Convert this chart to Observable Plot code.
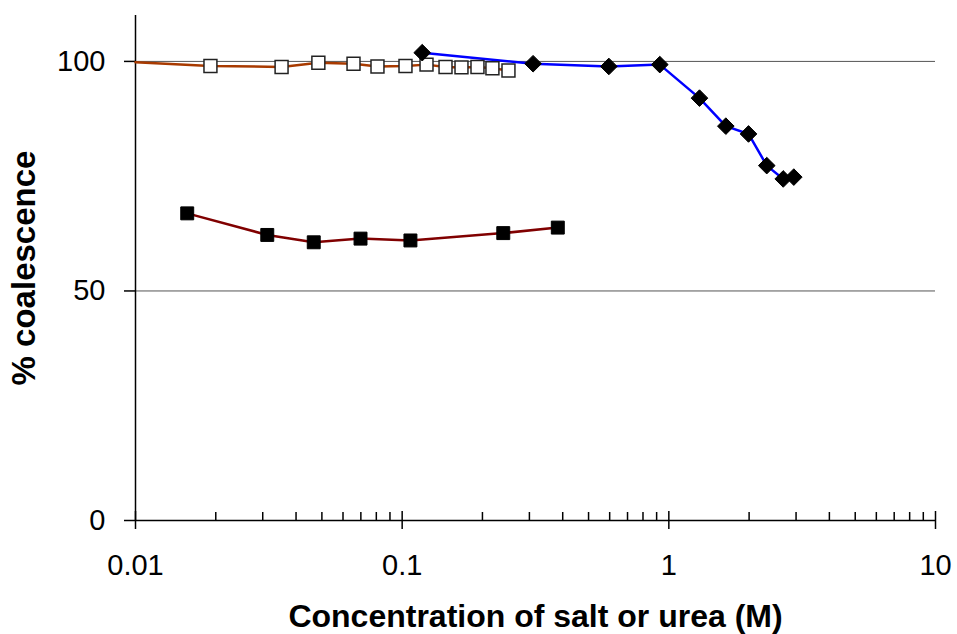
<!DOCTYPE html>
<html>
<head>
<meta charset="utf-8">
<script src="https://cdn.jsdelivr.net/npm/d3@7"></script>
<script src="https://cdn.jsdelivr.net/npm/@observablehq/plot@0.6"></script>
<style>
  html, body { margin: 0; padding: 0; background: #fff; }
  svg { display: block; }
</style>
</head>
<body>
<div id="chart"></div>
<script>
// Series: open squares (brown line)
const openX = [0.01, 0.0191, 0.0353, 0.0485, 0.0657, 0.0808, 0.1029, 0.1234, 0.1454, 0.1669, 0.1916, 0.218, 0.2504];
const openY = [99.8, 99.0, 98.8, 99.7, 99.5, 98.9, 99.0, 99.3, 98.8, 98.7, 98.8, 98.5, 98.0];
// first point is line-only (no marker)
const openMarker = [false, true, true, true, true, true, true, true, true, true, true, true, true];

// Series: filled squares (dark red line)
const filledX = [0.01563, 0.0312, 0.0466, 0.0698, 0.1074, 0.2394, 0.3834];
const filledY = [66.9, 62.2, 60.6, 61.4, 61.0, 62.6, 63.8];

// Series: diamonds (blue line)
const diamondX = [0.1189, 0.3097, 0.5957, 0.925, 1.303, 1.636, 1.99, 2.329, 2.685, 2.942];
const diamondY = [101.9, 99.5, 98.9, 99.3, 92.0, 85.9, 84.2, 77.3, 74.4, 74.8];

const xMajor = [0.01, 0.1, 1, 10];
const xMinor = [2,3,4,5,6,7,8,9].flatMap(m => [0.01*m, 0.1*m, 1*m]);
const yTicks = [0, 50, 100];
const yGrid = [50, 100];
const xTitle = "Concentration of salt or urea (M)";
const yTitle = "% coalescence";

const openData = openX.map((x, i) => ({x, y: openY[i], marker: openMarker[i]}));
const filledData = filledX.map((x, i) => ({x, y: filledY[i]}));
const diamondData = diamondX.map((x, i) => ({x, y: diamondY[i]}));

const font = "'Liberation Sans', Arial, sans-serif";
const blank = () => "";

const chart = Plot.plot({
  width: 957,
  height: 634,
  marginLeft: 135,
  marginRight: 22,
  marginTop: 15,
  marginBottom: 114,
  style: {fontFamily: font, background: "#fff", color: "#000"},
  x: {type: "log", domain: [0.01, 10], label: null},
  y: {domain: [0, 110], label: null},
  marks: [
    Plot.ruleY(yGrid, {stroke: "#555", strokeWidth: 1}),
    Plot.ruleX([0.01], {stroke: "#000", strokeWidth: 1.5}),
    Plot.ruleY([0], {stroke: "#000", strokeWidth: 1.5}),
    Plot.axisY({ticks: yTicks, tickSize: 11, tickPadding: 19, fontSize: 29, label: null, strokeWidth: 1.5}),
    Plot.axisX({ticks: xMajor, tickSize: 9, tickPadding: 25, fontSize: 29, label: null, strokeWidth: 1.5, tickFormat: d => String(d)}),
    Plot.axisX({ticks: xMajor, tickSize: -9, tickFormat: blank, label: null, strokeWidth: 1.5}),
    Plot.axisX({ticks: xMinor, tickSize: -8, tickFormat: blank, label: null, strokeWidth: 1.5}),
    Plot.line(openData, {x: "x", y: "y", stroke: "#a83a00", strokeWidth: 2.5}),
    Plot.line(filledData, {x: "x", y: "y", stroke: "#800000", strokeWidth: 2.5}),
    Plot.line(diamondData, {x: "x", y: "y", stroke: "#0000ff", strokeWidth: 2.5}),
    Plot.dot(openData.filter(d => d.marker), {x: "x", y: "y", symbol: "square", r: 7.3, fill: "#fff", stroke: "#222", strokeWidth: 1.5}),
    Plot.dot(filledData, {x: "x", y: "y", symbol: "square", r: 7.3, fill: "#000", stroke: "#000", strokeWidth: 1}),
    Plot.dot(diamondData, {x: "x", y: "y", symbol: "diamond2", r: 7.5, fill: "#000", stroke: "#000", strokeWidth: 1}),
    Plot.text([xTitle], {text: d => d, frameAnchor: "bottom", dy: 106, fontSize: 32, fontWeight: "bold", fill: "#000"}),
    Plot.text([yTitle], {text: d => d, frameAnchor: "left", textAnchor: "middle", dx: -111, rotate: -90, fontSize: 33, fontWeight: "bold", fill: "#000"})
  ]
});
document.getElementById("chart").appendChild(chart);
</script>
</body>
</html>
